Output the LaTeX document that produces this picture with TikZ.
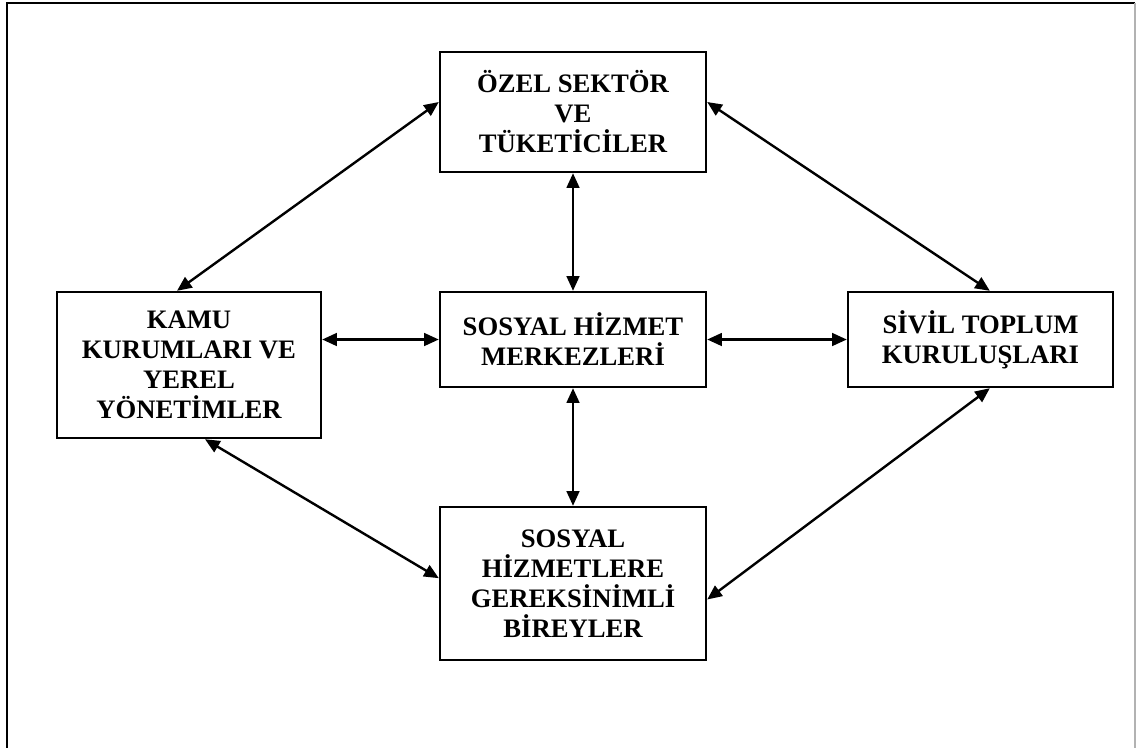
\documentclass[tikz,border=0pt]{standalone}
\usepackage{fontspec}
\setmainfont{Liberation Serif}
\usetikzlibrary{arrows.meta}
\begin{document}
\begin{tikzpicture}[x=0.75pt,y=-0.75pt,
    kutu/.style={draw,line width=1.8pt,align=center,inner sep=0pt,
        font=\bfseries\fontsize{20}{22.5}\selectfont},
    ok/.style={line width=1.8pt,{Triangle[length=11pt,width=9.5pt]}-{Triangle[length=11pt,width=9.5pt]}}]
                \clip (0,0) rectangle (1137,747);
                \draw[line width=1.8pt] (7,760) -- (7,3) -- (1135,3);
                \draw[gray!60,line width=1pt] (1135,3) -- (1135,760);
                \node[kutu,minimum width=199.5pt,minimum height=90pt] (ozel) at (573,112) {ÖZEL SEKTÖR\\VE\\TÜKETİCİLER};
                \node[kutu,minimum width=198pt,minimum height=109.5pt] (kamu) at (189,365) {KAMU\\KURUMLARI VE\\YEREL\\YÖNETİMLER};
                \node[kutu,minimum width=199.5pt,minimum height=71.25pt] (merkez) at (573,339.5) {SOSYAL HİZMET\\MERKEZLERİ};
                \node[kutu,minimum width=198.75pt,minimum height=71.25pt] (sivil) at (980.5,339.5) {SİVİL TOPLUM\\KURULUŞLARI};
                \node[kutu,minimum width=199.5pt,minimum height=114.75pt] (birey) at (573,583.5) {SOSYAL\\HİZMETLERE\\GEREKSİNİMLİ\\BİREYLER};
                \draw[ok] (kamu.east |- merkez.west) -- (merkez.west);
                \draw[ok] (merkez.east) -- (sivil.west);
                \draw[ok] (ozel.south) -- (merkez.north);
                \draw[ok] (merkez.south) -- (birey.north);
                \draw[ok] ([yshift=7.5pt]ozel.west) -- ([xshift=-9pt]kamu.north);
                \draw[ok] ([yshift=7.5pt]ozel.east) -- ([xshift=7pt]sivil.north);
                \draw[ok] ([xshift=12pt]kamu.south) -- ([yshift=4pt]birey.west);
                \draw[ok] ([xshift=7pt]sivil.south) -- ([yshift=-12pt]birey.east);
            \end{tikzpicture}
\end{document}
